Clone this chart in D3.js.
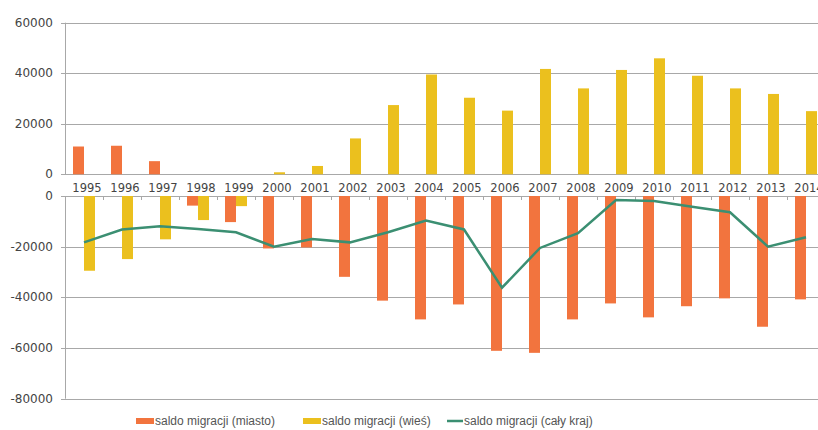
<!DOCTYPE html>
<html><head><meta charset="utf-8">
<script src="https://cdn.jsdelivr.net/npm/d3@7"></script>
<style>body{margin:0;background:#fff}svg{display:block}</style>
</head><body>
<svg id="c" width="818" height="430"></svg>
<script>
const years = ["1995","1996","1997","1998","1999","2000","2001","2002","2003","2004","2005","2006","2007","2008","2009","2010","2011","2012","2013","2014"];
const miasto = [11000,11300,5200,-3800,-10300,-20700,-20300,-31900,-41300,-48700,-42800,-61100,-61900,-48700,-42400,-47900,-43500,-40400,-51600,-40800];
const wies = [-29500,-24900,-17100,-9500,-4000,800,3300,14200,27400,39500,30300,25200,41700,34000,41300,45900,39000,34000,31800,25000];
const kraj = [-18300,-13200,-11900,-13000,-14300,-20000,-17000,-18300,-14300,-9700,-13200,-36200,-20500,-14700,-1600,-2000,-4200,-6400,-20000,-16300];
const upperTicks = [0,20000,40000,60000];
const lowerTicks = [0,-20000,-40000,-60000,-80000];
const seriesNames = ["saldo migracji (miasto)","saldo migracji (wieś)","saldo migracji (cały kraj)"];
const colors = ["#f2743e","#ebc01e","#3b8f72"];

const svg = d3.select("#c");
const left = 65, right = 825;
const x = d3.scaleBand().domain(years).range([left, right]).paddingInner(0).paddingOuter(0);
const yU = d3.scaleLinear().domain([0,60000]).range([174.3,22.7]);
const yL = d3.scaleLinear().domain([-80000,0]).range([398.7,196]);
const barW = 11;
const grid = "#a8a8a8";
const txt = "#444";

// gridlines
svg.append("g").selectAll("line").data(upperTicks).join("line")
  .attr("x1",left).attr("x2",818).attr("y1",d=>Math.round(yU(d))+0.5).attr("y2",d=>Math.round(yU(d))+0.5)
  .attr("stroke",grid).attr("stroke-width",1);
svg.append("g").selectAll("line").data(lowerTicks).join("line")
  .attr("x1",left).attr("x2",818).attr("y1",d=>Math.round(yL(d))+0.5).attr("y2",d=>Math.round(yL(d))+0.5)
  .attr("stroke",grid).attr("stroke-width",1);
// y axis lines
svg.append("line").attr("x1",left+0.5).attr("x2",left+0.5).attr("y1",yU(60000)).attr("y2",yU(0)).attr("stroke",grid);
svg.append("line").attr("x1",left+0.5).attr("x2",left+0.5).attr("y1",yL(0)).attr("y2",yL(-80000)).attr("stroke",grid);
// y tick marks
svg.append("g").selectAll("line").data(upperTicks).join("line")
  .attr("x1",left-4).attr("x2",left).attr("y1",d=>Math.round(yU(d))+0.5).attr("y2",d=>Math.round(yU(d))+0.5).attr("stroke",grid);
svg.append("g").selectAll("line").data(lowerTicks).join("line")
  .attr("x1",left-4).attr("x2",left).attr("y1",d=>Math.round(yL(d))+0.5).attr("y2",d=>Math.round(yL(d))+0.5).attr("stroke",grid);
// category tick marks on lower zero line
svg.append("g").selectAll("line").data(years.slice(1)).join("line")
  .attr("x1",d=>Math.round(x(d))+0.5).attr("x2",d=>Math.round(x(d))+0.5)
  .attr("y1",yL(0)).attr("y2",yL(0)+4).attr("stroke",grid);

// y labels
svg.append("g").selectAll("text").data(upperTicks).join("text")
  .attr("x",53).attr("y",d=>yU(d)+4).attr("text-anchor","end")
  .attr("font-family","DejaVu Sans").attr("font-size",12).attr("fill",txt).text(d=>d);
svg.append("g").selectAll("text").data(lowerTicks).join("text")
  .attr("x",53).attr("y",d=>yL(d)+4).attr("text-anchor","end")
  .attr("font-family","DejaVu Sans").attr("font-size",12).attr("fill",txt).text(d=>d);

// year labels
svg.append("g").selectAll("text").data(years).join("text")
  .attr("x",d=>x(d)+x.bandwidth()/2+3).attr("y",192).attr("text-anchor","middle")
  .attr("font-family","DejaVu Sans").attr("font-size",11.5).attr("fill",txt).text(d=>d);

// bars
function drawBars(vals, color, offset){
  const g = svg.append("g");
  vals.forEach((v,i)=>{
    const cx = x(years[i]) + x.bandwidth()/2;
    let y0,y1;
    if (v >= 0){ y0 = yU(v); y1 = yU(0); }
    else { y0 = yL(0); y1 = yL(v); }
    g.append("rect").attr("x",cx+offset).attr("y",y0).attr("width",barW).attr("height",Math.max(0,y1-y0)).attr("fill",color);
  });
}
drawBars(miasto, colors[0], -barW);
drawBars(wies, colors[1], 0);

// line
const line = d3.line().x((d,i)=>x(years[i])+x.bandwidth()/2).y(d=>yL(d));
svg.append("path").datum(kraj).attr("d",line).attr("fill","none").attr("stroke",colors[2]).attr("stroke-width",2.5);

// legend
const lg = svg.append("g").attr("font-family","Liberation Sans").attr("font-size",12).attr("fill","#555");
const lx = [136,303,447];
seriesNames.forEach((n,i)=>{
  if (i<2) lg.append("rect").attr("x",lx[i]).attr("y",418).attr("width",18).attr("height",6).attr("fill",colors[i]);
  else lg.append("line").attr("x1",lx[i]).attr("x2",lx[i]+16).attr("y1",421).attr("y2",421).attr("stroke",colors[i]).attr("stroke-width",2.5);
  lg.append("text").attr("x",lx[i]+(i<2?19:17)).attr("y",425).text(n);
});
</script>
</body></html>
